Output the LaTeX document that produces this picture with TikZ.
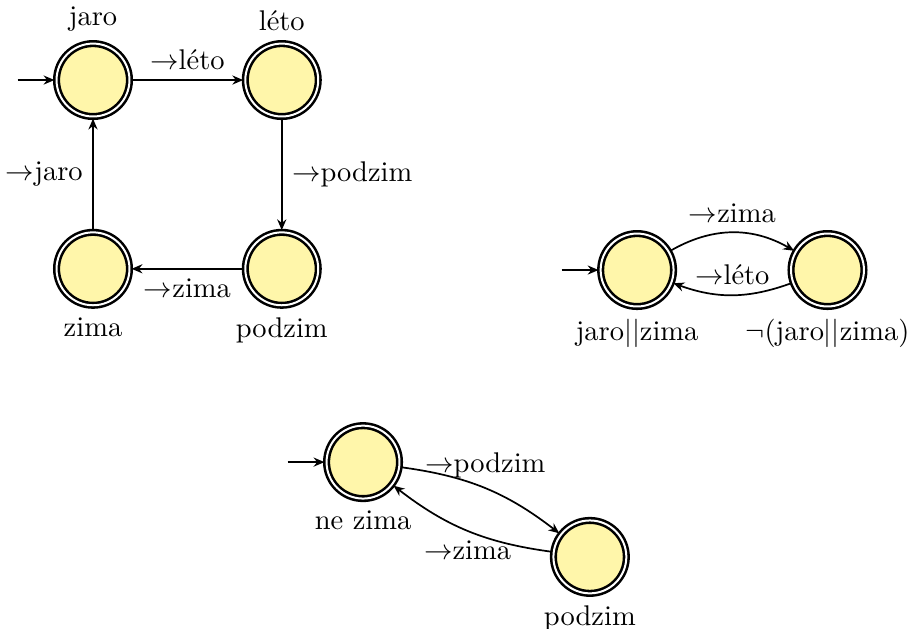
\documentclass[tikz,border=0pt]{standalone}
\usepackage{tikz}
\usetikzlibrary{arrows.meta, positioning, automata}
\definecolor{statefill}{RGB}{255,246,170}
\tikzset{
  season/.style={state, accepting, line width=0.9pt, double distance=0.7pt, fill=statefill, minimum size=0.9cm},
  start/.style={initial, initial text=},
}

\begin{document}
\begin{tikzpicture}[node distance=2.33cm, on grid, auto, semithick, >={Stealth[length=3.8pt, width=3.2pt]}]
    \useasboundingbox (0,0) rectangle (11.22,-7.753);
    \node[season, start, label=above:jaro] (jaro) at (1.148,-0.988) {};
    \node[season, label=above:léto, right=of jaro] (leto) {};
    \node[season, label=below:podzim, below=of leto] (podzim) {};
    \node[season, label=below:zima, below=of jaro] (zima) {};
    \path[->] (jaro) edge node {$\rightarrow$léto} (leto)
      (leto) edge node {$\rightarrow$podzim} (podzim)
      (podzim) edge node {$\rightarrow$zima} (zima)
      (zima) edge node {$\rightarrow$jaro} (jaro);

    \node[season, start, label=below:jaro$||$zima] (jz) at (7.864,-3.333) {};
    \node[season, label={below:$\neg$(jaro$||$zima)}, right=2.35cm of jz] (njz) {};
    \path[->] (jz) edge[bend left] node {$\rightarrow$zima} (njz)
      (njz) edge[bend left=20] node[swap] {$\rightarrow$léto} (jz);

    \node[season, start, label=below:ne zima] (nezima) at (4.481,-5.704) {};
    \node[season, label=below:podzim, below right=1.17cm and 2.8cm of nezima] (podzim2) {};
    \path[->] (nezima) edge[bend left=15] node[above] {$\rightarrow$podzim} (podzim2)
      (podzim2) edge[bend left=15] node[below] {$\rightarrow$zima} (nezima);
  \end{tikzpicture}
\end{document}
